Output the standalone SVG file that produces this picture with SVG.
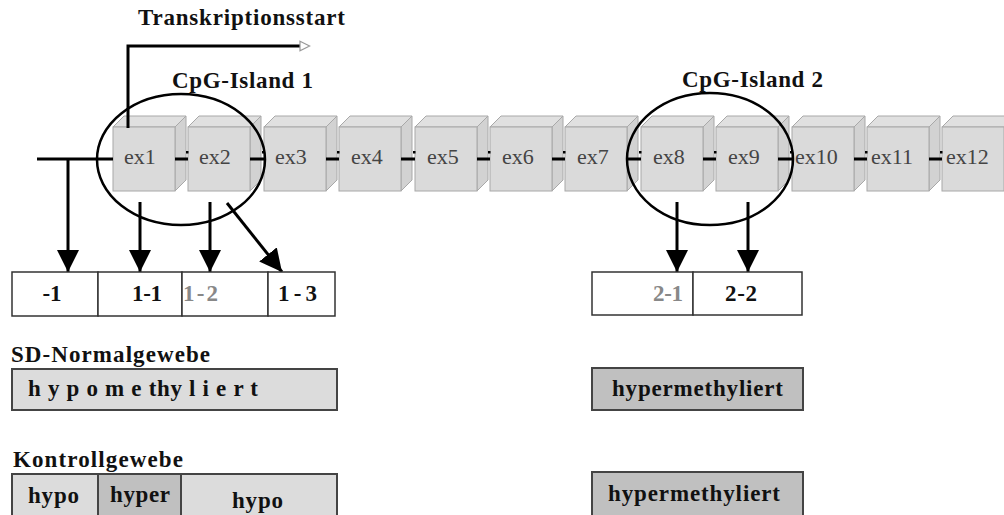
<svg xmlns="http://www.w3.org/2000/svg" width="1004" height="515" viewBox="0 0 1004 515">
<defs>
<style>
.lbl{font-family:"Liberation Serif","Times New Roman",serif;font-weight:bold;font-size:23px;fill:#111}
.ex{font-family:"Liberation Serif","Times New Roman",serif;font-size:22px;fill:#444}
.front{fill:#dadada;stroke:#a8a8a8;stroke-width:1}
.top{fill:#e0e0e0;stroke:#a8a8a8;stroke-width:1}
.side{fill:#d2d2d2;stroke:#a8a8a8;stroke-width:1}
.cell{fill:#fff;stroke:#333;stroke-width:1.5}
.light{fill:#dcdcdc;stroke:#444;stroke-width:2}
.dark{fill:#c0c0c0;stroke:#444;stroke-width:2}
.conn{stroke:#000;stroke-width:3;fill:none}
.isl{stroke:#000;stroke-width:2.5;fill:none}
.grey{fill:#888}
</style>
<marker id="ah" viewBox="0 0 10 10" refX="10" refY="5" markerWidth="7.5" markerHeight="7.5" markerUnits="strokeWidth" orient="auto">
<path d="M0,0 L10,5 L0,10 z" fill="#000"/>
</marker>
<marker id="oh" viewBox="0 0 10 10" refX="1" refY="5" markerWidth="4" markerHeight="4" markerUnits="strokeWidth" orient="auto">
<path d="M1,1 L9,5 L1,9 z" fill="#fff" stroke="#999" stroke-width="1"/>
</marker>
<g id="cube">
<polygon class="top" points="0,11 11,0 73,0 62,11"/>
<polygon class="side" points="62,11 73,0 73,64 62,75"/>
<rect class="front" x="0" y="11" width="62" height="64"/>
</g>
</defs>

<text class="lbl" x="138" y="25" textLength="207">Transkriptionsstart</text>

<g id="exons">
<g id="ex1"><use href="#cube" x="113" y="116"/><text class="ex" x="124" y="164">ex1</text></g>
<g id="ex2"><use href="#cube" x="188" y="116"/><text class="ex" x="199" y="164">ex2</text></g>
<g id="ex3"><use href="#cube" x="264" y="116"/><text class="ex" x="275" y="164">ex3</text></g>
<g id="ex4"><use href="#cube" x="339" y="116"/><text class="ex" x="351" y="164">ex4</text></g>
<g id="ex5"><use href="#cube" x="415" y="116"/><text class="ex" x="427" y="164">ex5</text></g>
<g id="ex6"><use href="#cube" x="490" y="116"/><text class="ex" x="502" y="164">ex6</text></g>
<g id="ex7"><use href="#cube" x="565" y="116"/><text class="ex" x="577" y="164">ex7</text></g>
<g id="ex8"><use href="#cube" x="641" y="116"/><text class="ex" x="653" y="164">ex8</text></g>
<g id="ex9"><use href="#cube" x="716" y="116"/><text class="ex" x="728" y="164">ex9</text></g>
<g id="ex10"><use href="#cube" x="792" y="116"/><text class="ex" x="795" y="164">ex10</text></g>
<g id="ex11"><use href="#cube" x="867" y="116"/><text class="ex" x="871" y="164">ex11</text></g>
<g id="ex12"><use href="#cube" x="942" y="116"/><text class="ex" x="946" y="164">ex12</text></g>
</g>

<g id="connectors">
<path class="conn" d="M37,159 H113"/>
<path class="conn" d="M175,159 H188 M250,159 H264 M326,159 H339 M401,159 H415 M477,159 H490 M552,159 H565 M627,159 H641 M703,159 H716 M778,159 H792 M854,159 H867 M929,159 H942"/>
<g fill="#000">
<rect x="186" y="151" width="2.5" height="2.5"/><rect x="262" y="151" width="2.5" height="2.5"/><rect x="337" y="151" width="2.5" height="2.5"/><rect x="413" y="151" width="2.5" height="2.5"/><rect x="488" y="151" width="2.5" height="2.5"/><rect x="563" y="151" width="2.5" height="2.5"/><rect x="639" y="151" width="2.5" height="2.5"/><rect x="714" y="151" width="2.5" height="2.5"/><rect x="790" y="151" width="2.5" height="2.5"/><rect x="865" y="151" width="2.5" height="2.5"/><rect x="940" y="151" width="2.5" height="2.5"/>
</g>
<path d="M128,128 V46 H300" stroke="#000" stroke-width="3" fill="none" marker-end="url(#oh)"/>
<path class="conn" d="M68,159 V272" marker-end="url(#ah)"/>
<path class="conn" d="M140,202 V272" marker-end="url(#ah)"/>
<path class="conn" d="M210,202 V272" marker-end="url(#ah)"/>
<path class="conn" d="M227,203 L282,272" marker-end="url(#ah)"/>
<path class="conn" d="M677,202 V272" marker-end="url(#ah)"/>
<path class="conn" d="M748,202 V272" marker-end="url(#ah)"/>
<path stroke="#000" stroke-width="2" d="M702,84 V93"/>
</g>

<g id="island1">
<ellipse class="isl" cx="181" cy="159.5" rx="84" ry="65.5"/>
<text class="lbl" x="172" y="88" textLength="141">CpG-Island 1</text>
</g>
<g id="island2">
<ellipse class="isl" cx="710" cy="159" rx="83" ry="66"/>
<text class="lbl" x="682" y="87" textLength="141">CpG-Island 2</text>
</g>

<g id="regions1">
<rect class="cell" x="12" y="272" width="86" height="44"/>
<rect class="cell" x="98" y="272" width="84" height="44"/>
<rect class="cell" x="182" y="272" width="86" height="44"/>
<rect class="cell" x="268" y="272" width="67" height="44"/>
<text class="lbl" x="52" y="301" text-anchor="middle">-1</text>
<text class="lbl" x="132" y="301" textLength="30">1-1</text>
<text class="lbl grey" x="183" y="301" textLength="35">1-2</text>
<text class="lbl" x="278" y="301" textLength="39">1-3</text>
</g>
<g id="regions2">
<rect class="cell" x="592" y="272" width="101" height="43"/>
<rect class="cell" x="693" y="272" width="109" height="43"/>
<text class="lbl grey" x="653" y="301" textLength="30">2-1</text>
<text class="lbl" x="725" y="301" textLength="32">2-2</text>
</g>

<g id="sd">
<text class="lbl" x="11" y="362" textLength="199">SD-Normalgewebe</text>
<rect class="light" x="12" y="369" width="325" height="41"/>
<text class="lbl" x="28" y="396" textLength="230">h y p o m e thy l i e r t</text>
<rect class="dark" x="592" y="368" width="211" height="42"/>
<text class="lbl" x="612" y="396" textLength="171">hypermethyliert</text>
</g>

<g id="kontroll">
<text class="lbl" x="13" y="467" textLength="170">Kontrollgewebe</text>
<rect class="light" x="12" y="474" width="86" height="50"/>
<rect class="dark" x="98" y="474" width="83" height="50"/>
<rect class="light" x="181" y="474" width="156" height="50"/>
<text class="lbl" x="28" y="503" textLength="51">hypo</text>
<text class="lbl" x="110" y="502" textLength="60">hyper</text>
<text class="lbl" x="232" y="508" textLength="51">hypo</text>
<rect class="dark" x="592" y="472" width="211" height="52"/>
<text class="lbl" x="608" y="501" textLength="172">hypermethyliert</text>
</g>
</svg>
